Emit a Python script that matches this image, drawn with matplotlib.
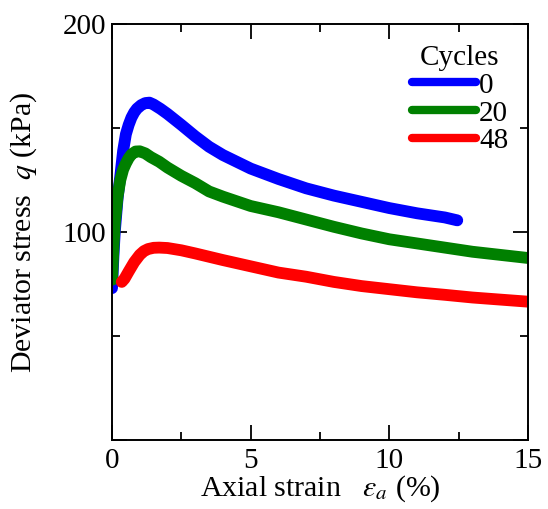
import matplotlib
matplotlib.use("Agg")
import matplotlib.pyplot as plt
import numpy as np

plt.rcParams['font.family'] = ['Liberation Serif', 'DejaVu Serif']
plt.rcParams['mathtext.fontset'] = 'stix'

# 0 cycles
strain_0 = [0.0, 0.05, 0.1, 0.2, 0.3, 0.4, 0.5, 0.6, 0.7, 0.8, 0.9, 1.05, 1.2, 1.35,
            1.5, 1.75, 2.0, 2.5, 3.0, 3.5, 4.0, 5.0, 6.0, 7.0, 8.0, 9.0, 10.0,
            11.0, 12.0, 12.45]
q_0 = [73, 88, 100, 116, 127, 139, 147, 151.5, 155, 157.5, 159.3, 161, 162, 162.2,
       161.3, 159.2, 156.8, 151.5, 146, 141, 137, 130.5, 125.5, 121, 117.5, 114.5,
       111.5, 109, 107, 105.6]

# 20 cycles
strain_20 = [0.0, 0.05, 0.1, 0.2, 0.3, 0.4, 0.5, 0.6, 0.7, 0.85, 1.0, 1.2, 1.4,
             1.7, 2.0, 2.5, 3.0, 3.5, 4.0, 5.0, 6.0, 7.0, 8.0, 9.0, 10.0, 11.0,
             12.0, 13.0, 14.0, 15.0]
q_20 = [77, 92, 104, 117, 125, 130, 133, 135.5, 137.3, 138.7, 138.8, 137.8, 136,
        133.8, 131, 127, 123.5, 119.5, 117, 112.5, 109.5, 106, 102.5, 99.3, 96.5,
        94.5, 92.5, 90.5, 89, 87.5]

# 48 cycles
strain_48 = [0.35, 0.45, 0.6, 0.8, 1.0, 1.15, 1.3, 1.5, 1.7, 2.0, 2.5, 3.0, 4.0,
             5.0, 6.0, 7.0, 8.0, 9.0, 10.0, 11.0, 12.0, 13.0, 14.0, 15.0]
q_48 = [76, 77.5, 81, 85.5, 89, 90.8, 91.8, 92.4, 92.5, 92.3, 91.2, 89.7, 86.5,
        83.5, 80.5, 78.5, 76, 74, 72.5, 71, 69.8, 68.5, 67.5, 66.5]

cycles = ['0', '20', '48']
colors = ['#0000FF', '#008000', '#FF0000']

fig = plt.figure(figsize=(5.48, 5.09), dpi=100)
ax = fig.add_axes([0.2044, 0.1356, 0.7591, 0.8172])

series = [(strain_0, q_0), (strain_20, q_20), (strain_48, q_48)]
for (x, y), lab, c in zip(series, cycles, colors):
    ax.plot(x, y, color=c, lw=8.5, solid_capstyle='round', solid_joinstyle='round', label=lab)

ax.set_xlim(0, 15)
ax.set_ylim(0, 200)
ax.set_xticks([0, 5, 10, 15])
ax.set_xticks([2.5, 7.5, 12.5], minor=True)
ax.set_yticks([0, 100, 200])
ax.set_yticklabels(['', '100', '200'])
ax.set_yticks([50, 150], minor=True)

ax.tick_params(which='both', direction='in', top=True, right=True, width=1.3,
               labelsize=21)
ax.tick_params(which='major', length=10.5)
ax.tick_params(which='minor', length=5.5)
ax.tick_params(axis='y', pad=4)
ax.tick_params(axis='x', pad=6)
for s in ax.spines.values():
    s.set_linewidth(1.4)

ax.set_xlabel(r'Axial strain   $\varepsilon_a$ (%)', fontsize=21.5, labelpad=-1)
ax.set_ylabel(r'Deviator stress  $q$ (kPa)', fontsize=21.5)
ax.yaxis.set_label_coords(-0.175, 0.5)

leg = ax.legend(title='Cycles', fontsize=21, title_fontsize=21, frameon=False,
                loc='upper left', bbox_to_anchor=(0.72, 0.95), borderaxespad=0,
                handlelength=2.2, handletextpad=0.12, labelspacing=0.05,
                borderpad=0)
for l in leg.get_lines():
    l.set_linewidth(6)

fig.savefig('out.png', dpi=100)
